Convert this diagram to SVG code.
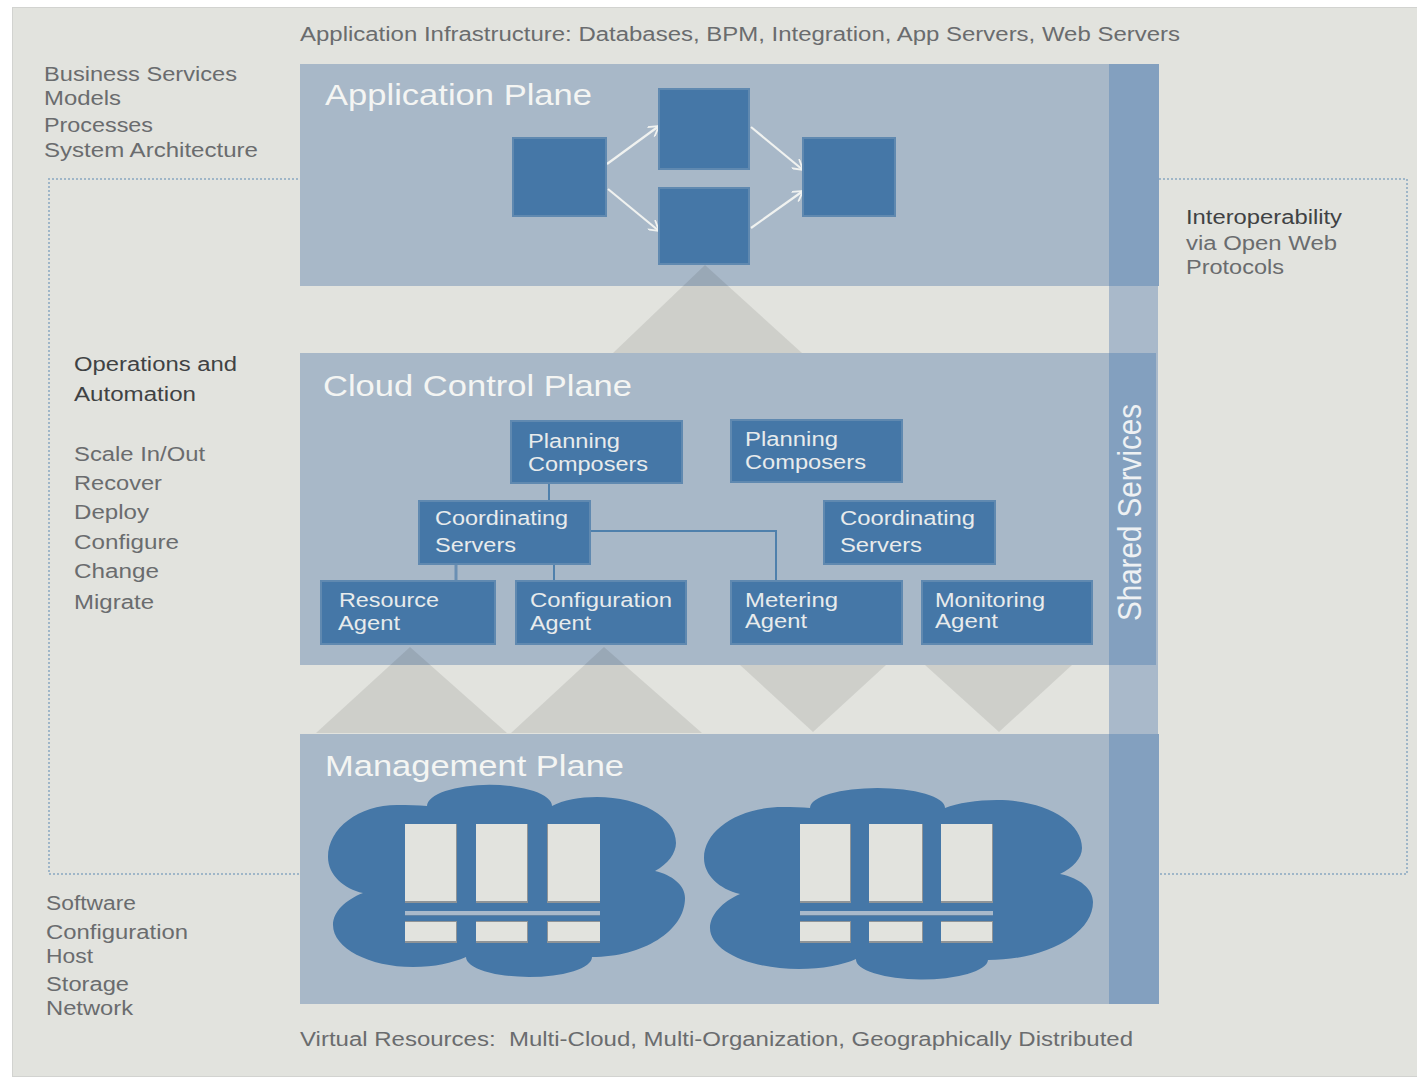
<svg xmlns="http://www.w3.org/2000/svg" width="1417" height="1077" viewBox="0 0 1417 1077">
<style>
text{font-family:"Liberation Sans",Arial,sans-serif}
.lbl{font-size:20px;fill:#6a6c6e}
.dark{font-size:20px;fill:#3f4244}
.title{font-size:30px;fill:#f4f5f3}
.box{fill:#4577a7;stroke:#6089b0;stroke-width:2}
.bl{font-size:20px;fill:#e8ebec}
.plane{fill:#a8b8c8}
.bar{fill:#83a0bf}
.tri{fill:#000;opacity:.085}
.cloud{fill:#4577a7}
.srv{fill:#e2e3de;stroke:none}
.sh{fill:#8f9497}
.rail{fill:#a9b9ca}
.rail2{fill:#6384a4}
.link{fill:none;stroke:#4f80ac;stroke-width:2}
.arrow{fill:none;stroke:#f0f2f0;stroke-width:2.200;marker-end:url(#open)}
.dot{fill:none;stroke:#9fb6c8;stroke-width:2;stroke-dasharray:2 2}
</style>
<defs>
<marker id="open" viewBox="0 0 12 12" refX="11" refY="6" markerWidth="12" markerHeight="12" markerUnits="userSpaceOnUse" orient="auto"><path d="M1 0L11 6L1 12" fill="none" stroke="#f0f2f0" stroke-width="1.8"/></marker>
</defs>
<rect width="1417" height="1077" fill="#ffffff"/>
<rect x="12.500" y="7.500" width="1410" height="1069" fill="#e2e3de" stroke="#d2d3d0"/>

<g id="side-rail"><rect class="rail" x="1109" y="286" width="49" height="448"/></g>

<g id="application-plane"><rect class="plane" x="300" y="64" width="809" height="222"/><rect class="bar" x="1109" y="64" width="50" height="222"/>
<text class="title" x="325" y="105" textLength="267" lengthAdjust="spacingAndGlyphs">Application Plane</text></g>
<g id="cloud-control-plane"><rect class="plane" x="300" y="353" width="809" height="312"/><rect class="bar" x="1109" y="353" width="47" height="312"/>
<text class="title" x="323" y="396" textLength="309" lengthAdjust="spacingAndGlyphs">Cloud Control Plane</text></g>
<g id="management-plane"><rect class="plane" x="300" y="734" width="809" height="270"/><rect class="bar" x="1109" y="734" width="50" height="270"/>
<text class="title" x="325" y="776" textLength="299" lengthAdjust="spacingAndGlyphs">Management Plane</text></g>

<g id="flow-triangles">
<polygon class="tri" points="705,265 802,353 613,353"/>
<polygon class="tri" points="410,647 507,733 316,733"/>
<polygon class="tri" points="604,647 702,733 511,733"/>
<polygon class="tri" points="740,665 886,665 813,732"/>
<polygon class="tri" points="925,665 1072,665 999,732"/>
</g>

<g id="connectors">
<path class="dot" d="M298 179H49V874H300"/>
<path class="dot" d="M1159 179H1407V874H1159"/>
<path class="arrow" d="M607 164L659 126"/>
<path class="arrow" d="M608 189L659 231"/>
<path class="arrow" d="M751 127L803 170"/>
<path class="arrow" d="M751 228L803 191"/>
<path class="link" d="M549 483V500"/>
<path class="link" d="M456 565V580" style="stroke:#6a8fb3;stroke-width:3"/>
<path class="link" d="M554 565V580"/>
<path class="link" d="M591 531H776V580"/>
</g>

<g id="app-box-1"><rect class="box" x="513" y="138" width="93" height="78"/></g>
<g id="app-box-2"><rect class="box" x="659" y="89" width="90" height="80"/></g>
<g id="app-box-3"><rect class="box" x="659" y="188" width="90" height="76"/></g>
<g id="app-box-4"><rect class="box" x="803" y="138" width="92" height="78"/></g>

<g id="planning-composers-1"><rect class="box" x="511" y="421" width="171" height="62"/>
<text class="bl" x="528" y="448" textLength="92" lengthAdjust="spacingAndGlyphs">Planning</text><text class="bl" x="528" y="471" textLength="120" lengthAdjust="spacingAndGlyphs">Composers</text></g>
<g id="planning-composers-2"><rect class="box" x="731" y="420" width="171" height="62"/>
<text class="bl" x="745" y="446" textLength="93" lengthAdjust="spacingAndGlyphs">Planning</text><text class="bl" x="745" y="469" textLength="121" lengthAdjust="spacingAndGlyphs">Composers</text></g>
<g id="coordinating-servers-1"><rect class="box" x="419" y="501" width="171" height="63"/>
<text class="bl" x="435" y="525" textLength="133" lengthAdjust="spacingAndGlyphs">Coordinating</text><text class="bl" x="435" y="552" textLength="81" lengthAdjust="spacingAndGlyphs">Servers</text></g>
<g id="coordinating-servers-2"><rect class="box" x="824" y="501" width="171" height="63"/>
<text class="bl" x="840" y="525" textLength="135" lengthAdjust="spacingAndGlyphs">Coordinating</text><text class="bl" x="840" y="552" textLength="82" lengthAdjust="spacingAndGlyphs">Servers</text></g>
<g id="resource-agent"><rect class="box" x="321" y="581" width="174" height="63"/>
<text class="bl" x="339" y="607" textLength="100" lengthAdjust="spacingAndGlyphs">Resource</text><text class="bl" x="338" y="630" textLength="62" lengthAdjust="spacingAndGlyphs">Agent</text></g>
<g id="configuration-agent"><rect class="box" x="516" y="581" width="170" height="63"/>
<text class="bl" x="530" y="607" textLength="142" lengthAdjust="spacingAndGlyphs">Configuration</text><text class="bl" x="530" y="630" textLength="61" lengthAdjust="spacingAndGlyphs">Agent</text></g>
<g id="metering-agent"><rect class="box" x="731" y="581" width="171" height="63"/>
<text class="bl" x="745" y="607" textLength="93" lengthAdjust="spacingAndGlyphs">Metering</text><text class="bl" x="745" y="628" textLength="62" lengthAdjust="spacingAndGlyphs">Agent</text></g>
<g id="monitoring-agent"><rect class="box" x="922" y="581" width="170" height="63"/>
<text class="bl" x="935" y="607" textLength="110" lengthAdjust="spacingAndGlyphs">Monitoring</text><text class="bl" x="935" y="628" textLength="63" lengthAdjust="spacingAndGlyphs">Agent</text></g>

<g id="cloud-1"><path class="cloud" d="M427 806A62 21 0 0 1 552 806C563 800 580 797 597 797C640 797 676 817 676 843C676 853 668 864 655 871C672 875 685 885 685 898C685 931 643 957 592 957A63 20 0 0 1 466 957C452 963 435 967 413 967C369 967 333 948 333 925C333 912 345 900 363 893C344 889 328 875 328 857C328 828 359 805 397 805C408 805 418 805 427 806Z"/>
<g transform="translate(405 824)"><rect class="sh" width="52" height="79"/><rect class="srv" width="51" height="77"/>
<rect class="sh" x="71" width="52" height="79"/><rect class="srv" x="71" width="51" height="77"/>
<rect class="sh" x="142" width="53" height="79"/><rect class="srv" x="143" width="52" height="77"/>
<rect class="rail" y="87" width="195" height="4"/><rect class="rail2" y="91" width="195" height="1"/>
<rect class="sh" y="97" width="52" height="22"/><rect class="srv" y="98" width="51" height="19"/>
<rect class="sh" x="71" y="97" width="52" height="22"/><rect class="srv" x="71" y="98" width="51" height="19"/>
<rect class="sh" x="142" y="97" width="53" height="22"/><rect class="srv" x="143" y="98" width="52" height="19"/></g></g>
<g id="cloud-2"><path class="cloud" d="M810 808A67.500 20 0 0 1 945 808C957 803 977 800 997 800C1044 800 1082 821 1082 848C1082 858 1073 868 1060 874C1080 878 1093 889 1093 902C1093 934 1046 960 988 960A66 20 0 0 1 856 959C843 965 822 969 799 969C750 969 710 951 710 928C710 915 722 902 740 894C719 889 704 875 704 858C704 830 739 807 783 807C792 807 802 807 810 808Z"/>
<g transform="translate(800 824)"><rect class="sh" width="51" height="79"/><rect class="srv" width="50" height="77"/>
<rect class="sh" x="69" width="54" height="79"/><rect class="srv" x="69" width="53" height="77"/>
<rect class="sh" x="141" width="52" height="79"/><rect class="srv" x="141" width="51" height="77"/>
<rect class="rail" y="87" width="193" height="4"/><rect class="rail2" y="91" width="193" height="1"/>
<rect class="sh" y="97" width="51" height="22"/><rect class="srv" y="98" width="50" height="19"/>
<rect class="sh" x="69" y="97" width="54" height="22"/><rect class="srv" x="69" y="98" width="53" height="19"/>
<rect class="sh" x="141" y="97" width="52" height="22"/><rect class="srv" x="141" y="98" width="51" height="19"/></g></g>

<g id="shared-services"><text transform="translate(1141 621) rotate(-90)" x="0" y="0" font-size="34" fill="#eef1f3" textLength="217" lengthAdjust="spacingAndGlyphs">Shared Services</text></g>

<g id="labels">
<text class="lbl" x="300" y="41" textLength="880" lengthAdjust="spacingAndGlyphs">Application Infrastructure: Databases, BPM, Integration, App Servers, Web Servers</text>
<text class="lbl" x="44" y="81" textLength="193" lengthAdjust="spacingAndGlyphs">Business Services</text>
<text class="lbl" x="44" y="105" textLength="77" lengthAdjust="spacingAndGlyphs">Models</text>
<text class="lbl" x="44" y="132" textLength="109" lengthAdjust="spacingAndGlyphs">Processes</text>
<text class="lbl" x="44" y="157" textLength="214" lengthAdjust="spacingAndGlyphs">System Architecture</text>
<text class="dark" x="1186" y="224" textLength="156" lengthAdjust="spacingAndGlyphs">Interoperability</text>
<text class="lbl" x="1186" y="250" textLength="151" lengthAdjust="spacingAndGlyphs">via Open Web</text>
<text class="lbl" x="1186" y="274" textLength="98" lengthAdjust="spacingAndGlyphs">Protocols</text>
<text class="dark" x="74" y="371" textLength="163" lengthAdjust="spacingAndGlyphs">Operations and</text>
<text class="dark" x="74" y="401" textLength="122" lengthAdjust="spacingAndGlyphs">Automation</text>
<text class="lbl" x="74" y="461" textLength="131" lengthAdjust="spacingAndGlyphs">Scale In/Out</text>
<text class="lbl" x="74" y="490" textLength="88" lengthAdjust="spacingAndGlyphs">Recover</text>
<text class="lbl" x="74" y="519" textLength="75" lengthAdjust="spacingAndGlyphs">Deploy</text>
<text class="lbl" x="74" y="549" textLength="105" lengthAdjust="spacingAndGlyphs">Configure</text>
<text class="lbl" x="74" y="578" textLength="85" lengthAdjust="spacingAndGlyphs">Change</text>
<text class="lbl" x="74" y="609" textLength="80" lengthAdjust="spacingAndGlyphs">Migrate</text>
<text class="lbl" x="46" y="910" textLength="90" lengthAdjust="spacingAndGlyphs">Software</text>
<text class="lbl" x="46" y="939" textLength="142" lengthAdjust="spacingAndGlyphs">Configuration</text>
<text class="lbl" x="46" y="963" textLength="47" lengthAdjust="spacingAndGlyphs">Host</text>
<text class="lbl" x="46" y="991" textLength="83" lengthAdjust="spacingAndGlyphs">Storage</text>
<text class="lbl" x="46" y="1015" textLength="87" lengthAdjust="spacingAndGlyphs">Network</text>
<text class="lbl" x="300" y="1046" textLength="833" lengthAdjust="spacingAndGlyphs" xml:space="preserve">Virtual Resources:  Multi-Cloud, Multi-Organization, Geographically Distributed</text>
</g>
</svg>
